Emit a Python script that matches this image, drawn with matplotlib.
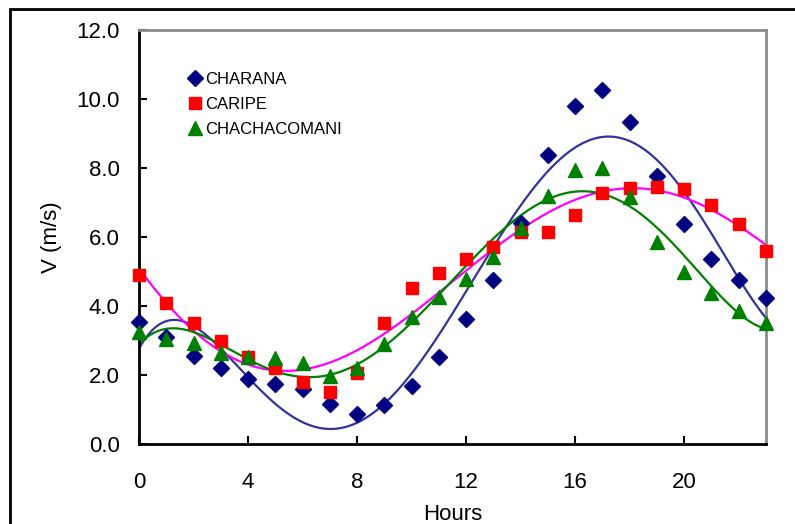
import numpy as np
import matplotlib.pyplot as plt
from matplotlib.patches import Rectangle

plt.rcParams['font.family'] = ['Liberation Sans', 'DejaVu Sans']

hours = np.arange(24)

charana = [3.54, 3.10, 2.55, 2.20, 1.88, 1.74, 1.59, 1.16, 0.87, 1.13, 1.68, 2.52,
           3.62, 4.75, 6.40, 8.38, 9.80, 10.26, 9.33, 7.77, 6.38, 5.36, 4.75, 4.23]
caripe = [4.90, 4.09, 3.51, 2.99, 2.52, 2.20, 1.80, 1.50, 2.06, 3.50, 4.52, 4.96,
          5.36, 5.71, 6.14, 6.14, 6.64, 7.27, 7.42, 7.45, 7.39, 6.93, 6.38, 5.59]
chacha = [3.25, 3.04, 2.93, 2.64, 2.52, 2.49, 2.35, 1.97, 2.20, 2.90, 3.68, 4.26,
          4.78, 5.42, 6.26, 7.19, 7.94, 8.00, 7.16, 5.86, 4.99, 4.38, 3.86, 3.51]

series = [
    ('CHARANA', charana, 'D', '#000080', '#333399'),
    ('CARIPE', caripe, 's', '#ff0000', '#ff00ff'),
    ('CHACHACOMANI', chacha, '^', '#008000', '#008000'),
]
msizes = {'D': 8, 's': 9, '^': 10}

fig = plt.figure(figsize=(7.95, 5.24), dpi=100)
ax = fig.add_axes([139/795, 80/524, 627/795, 414/524])

# polynomial trendlines (order 5) through each station's hourly means
xs = np.linspace(0, 23, 300)
for name, vals, mk, mc, lc in series:
    coef = np.polyfit(hours, vals, 5)
    ax.plot(xs, np.polyval(coef, xs), color=lc, lw=1.6, zorder=2)

for name, vals, mk, mc, lc in series:
    ax.plot(hours, vals, linestyle='none', marker=mk, ms=msizes[mk],
            color=mc, mec=mc, label=name, zorder=3, clip_on=False)

ax.set_xlim(0, 23)
ax.set_ylim(0, 12)
ax.set_xticks([0, 4, 8, 12, 16, 20])
ax.set_yticks(np.arange(0, 12.1, 2))
ax.set_yticklabels(['%.1f' % v for v in np.arange(0, 12.1, 2)])
ax.tick_params(direction='in', length=6, width=1.5, labelsize=16, pad=14)
ax.tick_params(axis='x', pad=20)

for s in ['left', 'bottom']:
    ax.spines[s].set_color('black')
    ax.spines[s].set_linewidth(2)
for s in ['top', 'right']:
    ax.spines[s].set_color('#8c8c8c')
    ax.spines[s].set_linewidth(2)

ax.set_xlabel('Hours', fontsize=16, labelpad=8)
ax.set_ylabel('V (m/s)', fontsize=16, labelpad=10)

leg = ax.legend(loc='upper left', bbox_to_anchor=(0.065, 0.915), frameon=False,
                fontsize=12, handletextpad=0.15, labelspacing=0.6,
                handlelength=1.0, borderaxespad=0)

fig.patches.append(Rectangle((10/795, -0.1), 1.2, (524 - 9)/524 + 0.1,
                             transform=fig.transFigure, fill=False,
                             edgecolor='black', lw=2))

fig.savefig('out.png', dpi=100)
